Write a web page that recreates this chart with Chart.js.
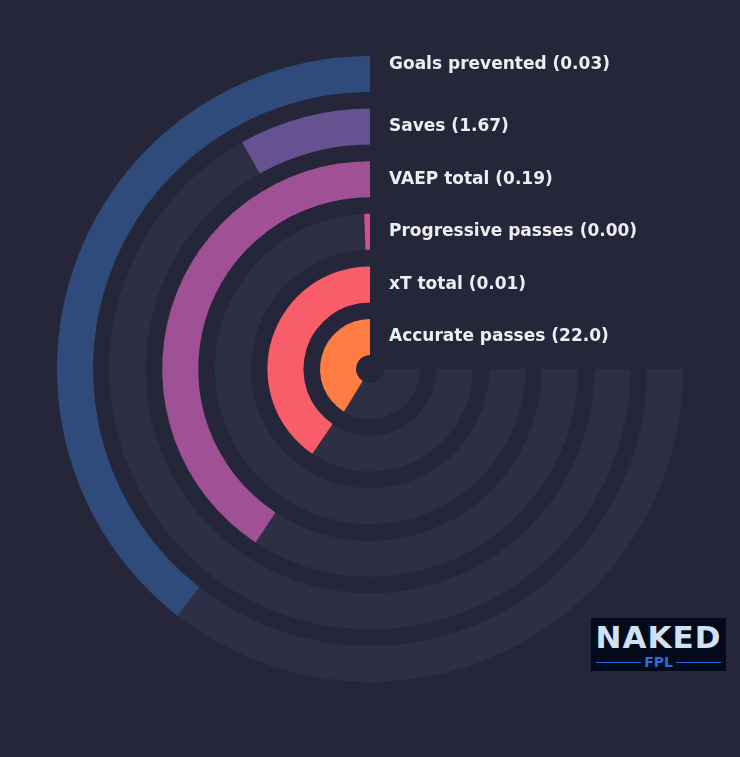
<!DOCTYPE html>
<html lang="en">
<head>
  <meta charset="UTF-8" />
  <title>Goalkeeper radial bars</title>
  <script src="https://cdn.jsdelivr.net/npm/chart.js"></script>
  <style>
    html, body {
      margin: 0;
      padding: 0;
      width: 740px;
      height: 757px;
      background: #25263a;
      overflow: hidden;
      font-family: "DejaVu Sans", sans-serif;
    }
    #wrap {
      position: absolute;
      left: 0;
      top: 0;
      width: 740px;
      height: 757px;
    }
    #radial {
      position: absolute;
      left: 0;
      top: 0;
    }
    .logo {
      position: absolute;
      left: 591px;
      top: 618px;
      width: 135px;
      height: 53px;
      background: #030a1c;
      text-align: center;
    }
    .logo .big {
      font: bold 31px "DejaVu Sans", sans-serif;
      color: #cfe2f3;
      letter-spacing: 1px;
      line-height: 34px;
      margin-top: 2px;
    }
    .logo .small {
      font: bold 14px "DejaVu Sans", sans-serif;
      color: #2a6fd6;
      line-height: 16px;
      position: relative;
    }
    .logo .small::before, .logo .small::after {
      content: "";
      position: absolute;
      top: 8px;
      width: 45px;
      height: 1px;
      background: #2a6fd6;
    }
    .logo .small::before { left: 5px; }
    .logo .small::after { right: 5px; }
  </style>
</head>
<body>
  <div id="wrap">
    <canvas id="radial" width="740" height="757"></canvas>
    <div class="logo"><div class="big">NAKED</div><div class="small">FPL</div></div>
  </div>

  <script>
    // metrics, outer ring first
    const metrics = ['Goals prevented', 'Saves', 'VAEP total', 'Progressive passes', 'xT total', 'Accurate passes'];
    const metricValues = ['0.03', '1.67', '0.19', '0.00', '0.01', '22.0'];
    // share of the 270 degree track that is filled (percent)
    const percentiles = [52.6, 10.9, 54.3, 0.8, 54.0, 55.0];
    const colors = ['#2f4b7c', '#665191', '#a05195', '#d45087', '#f95d6a', '#ff7c43'];

    const trackColor = '#2e2f44';
    const ringWeight = 36;
    const gapWeight = 16.6;

    const datasets = [];
    metrics.forEach((m, i) => {
      if (i > 0) {
        datasets.push({
          label: 'gap',
          data: [100],
          backgroundColor: ['rgba(0,0,0,0)'],
          borderWidth: 0,
          weight: gapWeight
        });
      }
      datasets.push({
        label: m,
        data: [100 - percentiles[i], percentiles[i]],
        backgroundColor: [trackColor, colors[i]],
        borderWidth: 0,
        weight: ringWeight
      });
    });

    const labelPlugin = {
      id: 'ringLabels',
      afterDraw(chart) {
        const ctx = chart.ctx;
        ctx.save();
        ctx.font = 'bold 17px "DejaVu Sans"';
        ctx.fillStyle = '#eeeef2';
        ctx.textBaseline = 'middle';
        let k = 0;
        chart.data.datasets.forEach((ds, di) => {
          if (ds.label === 'gap') return;
          const arc = chart.getDatasetMeta(di).data[0];
          let y = arc.y - (arc.innerRadius + arc.outerRadius) / 2;
          if (k === 0) y -= 9;
          ctx.fillText(ds.label + ' (' + metricValues[k] + ')', arc.x + 19, y);
          k++;
        });
        ctx.restore();
      }
    };

    const ctx = document.getElementById('radial').getContext('2d');
    new Chart(ctx, {
      type: 'doughnut',
      data: {
        labels: ['track', 'value'],
        datasets: datasets
      },
      options: {
        responsive: false,
        animation: false,
        rotation: 90,
        circumference: 270,
        cutout: 14,
        layout: {
          padding: { left: 57, right: 57, top: 56, bottom: 75 }
        },
        plugins: {
          legend: { display: false },
          tooltip: { enabled: false }
        }
      },
      plugins: [labelPlugin]
    });
  </script>
</body>
</html>
